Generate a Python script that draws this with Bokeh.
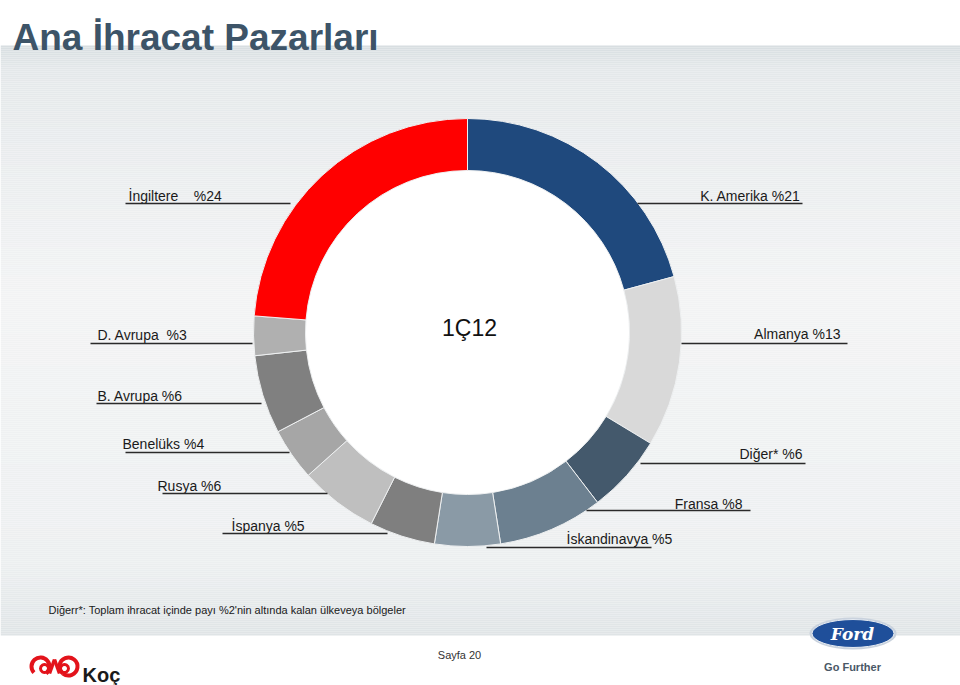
import numpy as np
from bokeh.plotting import figure
from bokeh.models import Range1d, ColumnDataSource
from bokeh.core.properties import value
from bokeh.embed import file_html
from bokeh.resources import INLINE

# ---------------- data ----------------
title = "Ana İhracat Pazarları"
period = "1Ç12"
regions = ["K. Amerika", "Almanya", "Diğer*", "Fransa", "İskandinavya", "İspanya",
           "Rusya", "Benelüks", "B. Avrupa", "D. Avrupa", "İngiltere"]
shares = [21, 13, 6, 8, 5, 5, 6, 4, 6, 3, 24]
colors = ["#1f497d", "#d9d9d9", "#44596c", "#6c8090", "#8a9aa6", "#7f7f7f",
          "#bfbfbf", "#a6a6a6", "#808080", "#b0b0b0", "#ff0000"]
footnote = "Diğerr*: Toplam ihracat içinde payı %2'nin altında kalan ülkeveya bölgeler"
page_label = "Sayfa 20"

# ---------------- layout (pixel coordinates of the page) ----------------
W, H = 960, 685
def Y(py):
    return H - py

NB = "\u00a0"
# label: (gap, anchor x, baseline y, align, line x0, line x1, line y)
label_layout = [
    (" ", 800, 195, "right", 637, 802, 203),
    (" ", 840, 333, "right", 681, 847, 343),
    (" ", 802, 453, "right", 640, 805, 463),
    (" ", 742, 503, "right", 586, 750, 510),
    (" ", 566, 538, "left", 486, 651, 547),
    (" ", 231, 525, "left", 222, 387, 533),
    (" ", 157, 485, "left", 162, 327, 493),
    (" ", 122, 443, "left", 125, 289, 452),
    (" ", 97, 395, "left", 96, 261, 403),
    (NB * 2, 97, 334, "left", 90, 252, 343),
    (NB * 4, 128, 195, "left", 125, 290, 203),
]

cx, cy = 467, 332
r_in, r_out = 162, 214

p = figure(width=W, height=H, x_range=Range1d(0, W), y_range=Range1d(0, H),
           output_backend="svg", toolbar_location=None, min_border=0,
           x_axis_type=None, y_axis_type=None,
           background_fill_color="white", border_fill_color="white",
           outline_line_color=None)
p.grid.visible = False

# background gradient band
def lerp(c1, c2, t):
    a = [int(c1[i:i+2], 16) for i in (1, 3, 5)]
    b = [int(c2[i:i+2], 16) for i in (1, 3, 5)]
    return "#%02x%02x%02x" % tuple(int(round(a[k] + (b[k] - a[k]) * t)) for k in range(3))

stops = [(45, "#d8dee1"), (70, "#e4e8ea"), (300, "#f2f3f4"), (560, "#eceff0"), (635, "#dfe4e6")]
tops, bots, cols = [], [], []
for y0 in range(45, 635, 2):
    ym = y0 + 1
    for (a, ca), (b, cb) in zip(stops[:-1], stops[1:]):
        if a <= ym <= b:
            cols.append(lerp(ca, cb, (ym - a) / (b - a)))
            break
    tops.append(Y(y0))
    bots.append(Y(min(y0 + 2, 635)))
p.quad(left=0, right=W, top=tops, bottom=bots, fill_color=cols, line_color=None)

# title
p.text(x=[12], y=[Y(37)], text=[title], text_font=value("Liberation Sans"),
       text_font_style="bold", text_font_size="37px", text_color="#3d5468",
       text_baseline="alphabetic", text_align="left")

# donut
total = float(sum(shares))
cum = np.cumsum([0] + shares)
starts = np.pi / 2 - 2 * np.pi * cum[:-1] / total
ends = np.pi / 2 - 2 * np.pi * cum[1:] / total
src = ColumnDataSource(dict(start=starts, end=ends, color=colors, region=regions, share=shares))
p.annular_wedge(x=cx, y=Y(cy), inner_radius=r_in, outer_radius=r_out,
                start_angle="start", end_angle="end", direction="clock",
                fill_color="color", line_color="#eef0f1", line_width=1, source=src)
p.circle(x=cx, y=Y(cy), radius=r_in - 0.5, fill_color="white", line_color=None)

p.text(x=[cx + 2], y=[Y(327)], text=[period], text_font=value("Liberation Sans"),
       text_font_size="23px", text_color="#111111", text_align="center",
       text_baseline="alphabetic")

# labels and underline rules
for name, share, lay in zip(regions, shares, label_layout):
    gap, ax, by, al, lx0, lx1, ly = lay
    p.text(x=[ax], y=[Y(by)], text=[f"{name}{gap}%{share}"],
           text_font=value("Liberation Sans"), text_font_size="14px",
           text_color="#1a1a1a", text_align=al, text_baseline="alphabetic")
    p.segment(x0=[lx0], y0=[Y(ly)], x1=[lx1], y1=[Y(ly)], line_color="#2a2a2a", line_width=1.6)

# footnote
p.text(x=[48], y=[Y(609)], text=[footnote], text_font=value("Liberation Sans"),
       text_font_size="11px", text_color="#1a1a1a", text_baseline="alphabetic")

# page number
p.text(x=[459], y=[Y(654)], text=[page_label], text_font=value("Liberation Sans"),
       text_font_size="11px", text_color="#333333", text_align="center",
       text_baseline="alphabetic")

# Ford logo
p.ellipse(x=852.5, y=Y(633), width=87, height=32, fill_color="#c9d2dd", line_color=None)
p.ellipse(x=852.5, y=Y(633), width=82, height=28, fill_color="#1f4f9a", line_color="#e8edf3", line_width=1)
p.text(x=[852], y=[Y(633)], text=["Ford"], text_font=value("DejaVu Serif"),
       text_font_style="bold italic", text_font_size="17px", text_color="white",
       text_align="center", text_baseline="middle")
p.text(x=[852], y=[Y(666)], text=["Go Further"], text_font=value("Liberation Sans"),
       text_font_style="bold", text_font_size="11px", text_color="#4a5866",
       text_align="center", text_baseline="alphabetic")

# Koç logo (stylised ram-horn mark)
red = "#e3131b"
p.arc(x=[40, 68], y=[Y(666), Y(666)], radius=9, start_angle=[-0.9, -2.24],
      end_angle=[3.9, 4.04], direction="anticlock", line_color=red, line_width=4)
p.arc(x=[44, 64], y=[Y(668), Y(668)], radius=4, start_angle=[np.pi, 0],
      end_angle=[np.pi - 0.01, -0.01], direction="anticlock", line_color=red, line_width=3)
p.segment(x0=[49, 59], y0=[Y(673), Y(673)], x1=[54, 54], y1=[Y(659), Y(659)],
          line_color=red, line_width=3.5)
p.text(x=[82], y=[Y(674)], text=["Koç"], text_font=value("Liberation Sans"),
       text_font_style="bold", text_font_size="20px", text_color="#1a1a1a",
       text_baseline="alphabetic")

open("out.html", "w").write(file_html(p, INLINE))
